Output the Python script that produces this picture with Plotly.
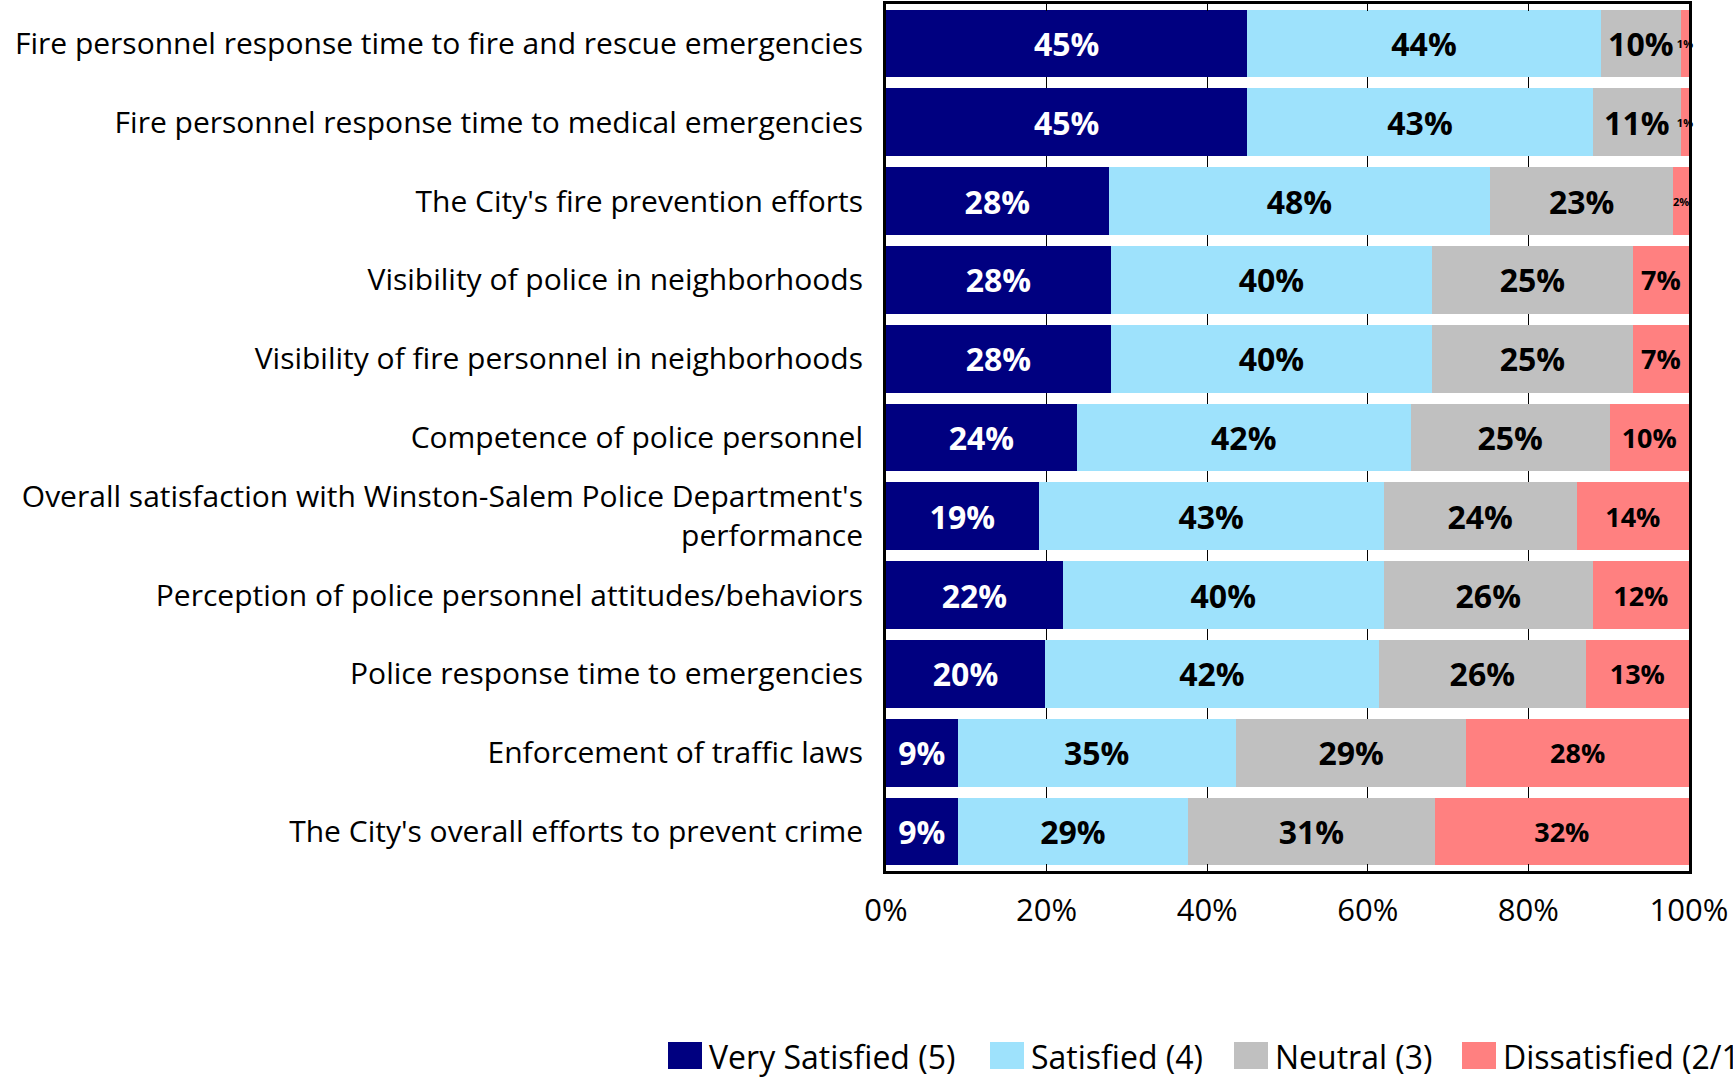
import plotly.graph_objects as go

# Survey items, listed top to bottom
categories = [
    "Fire personnel response time to fire and rescue emergencies",
    "Fire personnel response time to medical emergencies",
    "The City's fire prevention efforts",
    "Visibility of police in neighborhoods",
    "Visibility of fire personnel in neighborhoods",
    "Competence of police personnel",
    "Overall satisfaction with Winston-Salem Police Department's<br>performance",
    "Perception of police personnel attitudes/behaviors",
    "Police response time to emergencies",
    "Enforcement of traffic laws",
    "The City's overall efforts to prevent crime",
]

very_satisfied = [45, 45, 28, 28, 28, 24, 19, 22, 20, 9, 9]
satisfied = [44, 43, 48, 40, 40, 42, 43, 40, 42, 35, 29]
neutral = [10, 11, 23, 25, 25, 25, 24, 26, 26, 29, 31]
dissatisfied = [1, 1, 2, 7, 7, 10, 14, 12, 13, 28, 32]

series_names = ["Very Satisfied (5)", "Satisfied (4)", "Neutral (3)", "Dissatisfied (2/1)"]
series_values = [very_satisfied, satisfied, neutral, dissatisfied]
colors = ["#000080", "#9EE2FC", "#C0C0C0", "#FF8080"]
text_colors = ["white", "black", "black", "black"]

tick_vals = [0, 20, 40, 60, 80, 100]
tick_text = ["0%", "20%", "40%", "60%", "80%", "100%"]

W, H = 1733, 1077
M_L, M_R, M_T, M_B = 886, 44, 4, 206
PW = W - M_L - M_R
PH = H - M_T - M_B

FONT = "Open Sans"

fig = go.Figure()
for name, vals, col, tcol in zip(series_names, series_values, colors, text_colors):
    if name.startswith("Dissatisfied"):
        sizes = [11 if v < 5 else 27 for v in vals]
    else:
        sizes = [32] * len(vals)
    fig.add_trace(go.Bar(
        y=categories,
        x=vals,
        name=name,
        orientation="h",
        marker=dict(color=col, line=dict(width=0)),
        text=[f"{v}%" for v in vals],
        textposition="inside",
        insidetextanchor="middle",
        textangle=0,
        constraintext="none",
        textfont=dict(family=FONT, size=sizes, color=tcol, weight="bold"),
        cliponaxis=False,
        showlegend=False,
        hoverinfo="skip",
    ))

# Legend drawn as swatches + labels below the plot (pixel layout converted to paper units)
def px_x(p):
    return (p - M_L) / PW

def px_y(p):
    return (H - M_B - p) / PH

legend_swatch_left = [668, 990, 1234, 1462]
swatch_w, swatch_top, swatch_bot = 34, 1042, 1069
legend_text_y = 1056
shapes = []
annotations = []
for name, col, sx in zip(series_names, colors, legend_swatch_left):
    shapes.append(dict(
        type="rect", xref="paper", yref="paper",
        x0=px_x(sx), x1=px_x(sx + swatch_w),
        y0=px_y(swatch_bot), y1=px_y(swatch_top),
        fillcolor=col, line=dict(width=0), layer="above",
    ))
    annotations.append(dict(
        text=name, xref="paper", yref="paper",
        x=px_x(sx + swatch_w + 5), y=px_y(legend_text_y),
        xanchor="left", yanchor="middle", showarrow=False,
        font=dict(family=FONT, size=32, color="black"),
    ))

fig.update_layout(
    barmode="stack",
    barnorm="percent",
    bargap=0.14,
    width=W,
    height=H,
    margin=dict(l=M_L, r=M_R, t=M_T, b=M_B, autoexpand=False),
    paper_bgcolor="white",
    plot_bgcolor="white",
    font=dict(family=FONT, color="black"),
    shapes=shapes,
    annotations=annotations,
    xaxis=dict(
        range=[0, 100],
        tickvals=tick_vals,
        ticktext=tick_text,
        tickfont=dict(family=FONT, size=31, color="black"),
        ticks="inside",
        ticklen=7,
        tickwidth=1,
        tickcolor="black",
        showline=True,
        linecolor="black",
        linewidth=3,
        mirror="ticks",
        showgrid=True,
        gridcolor="black",
        gridwidth=1,
        zeroline=False,
        ticklabelstandoff=10,
        fixedrange=True,
    ),
    yaxis=dict(
        autorange="reversed",
        tickfont=dict(family=FONT, size=30, color="black"),
        ticks="",
        showline=True,
        linecolor="black",
        linewidth=3,
        mirror=True,
        showgrid=False,
        ticklabelstandoff=14,
        fixedrange=True,
    ),
)

fig.write_html("out.html")
